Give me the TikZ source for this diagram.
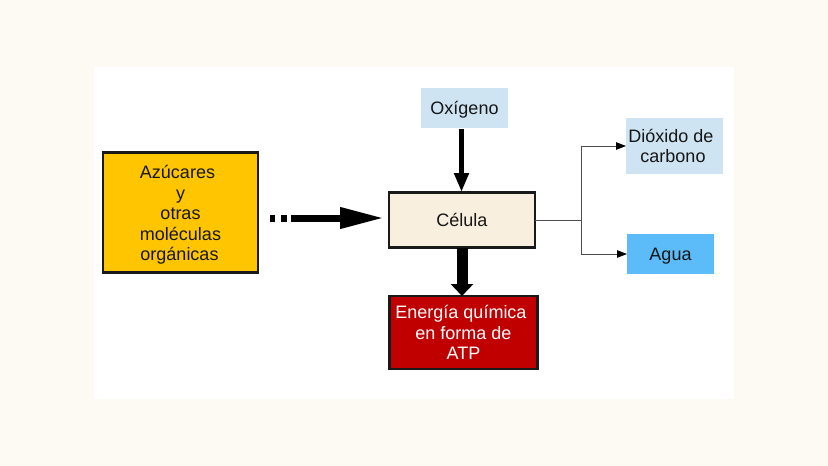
\documentclass[tikz,border=0pt]{standalone}
\usepackage{fontspec}
\setmainfont{Liberation Sans}
\usetikzlibrary{arrows.meta}
\definecolor{pagebg}{HTML}{FDF9F3}
\definecolor{azu}{HTML}{FFC600}
\definecolor{celc}{HTML}{F8EFDF}
\definecolor{pale}{HTML}{CFE4F2}
\definecolor{aguac}{HTML}{5CBCF9}
\definecolor{ener}{HTML}{C00000}
\definecolor{txt}{HTML}{161616}
\tikzset{
  x=1pt,y=-1pt,
  boxn/.style={inner sep=0pt,outer sep=0pt,align=center,text=txt,font=\fontsize{18}{20.4}\selectfont},
  framed/.style={boxn,draw=black!90,line width=2.4pt},
  thinarrow/.style={draw=black!70,line width=0.9pt,-{Triangle[length=10pt,width=7.5pt,black]}},
}
\begin{document}
\begin{tikzpicture}
\useasboundingbox (0,0) rectangle (828,466);
\fill[pagebg] (0,0) rectangle (828,466);
\fill[white] (94,67) rectangle (734,399);
\node[framed,fill=azu,minimum width=155.5pt,minimum height=120pt] (azucares) at (180.5,212.5) {\rule{0pt}{18pt}Azúcares\hspace*{6pt}\\y\hspace*{6pt}\\otras\hspace*{6pt}\\moléculas\hspace*{6pt}\\orgánicas\hspace*{2pt}};
\node[framed,fill=celc,minimum width=146.5pt,minimum height=55pt] (celula) at (462,220) {Célula};
\node[boxn,fill=pale,minimum width=87pt,minimum height=40pt,text depth=0pt] (oxigeno) at (464.5,108) {Oxígeno};
\node[boxn,fill=pale,minimum width=97pt,minimum height=56pt] (dioxido) at (674.5,146) {Dióxido de\hspace*{7pt}\\carbono\hspace*{3pt}};
\node[boxn,fill=aguac,minimum width=87pt,minimum height=40pt,text depth=0pt] (agua) at (670.5,254) {Agua};
\node[framed,fill=ener,text=white,minimum width=148pt,minimum height=73pt] (energia) at (463.5,332.5) {Energía química\hspace*{5pt}\\en forma de\hspace*{5pt}\\ATP};
\coordinate (j) at (581,220);
\coordinate (s) at (270,218);
\coordinate (e) at (384,218);
\draw[line width=7pt,dash pattern=on 5pt off 6pt on 6pt off 4pt on 200pt,-{Triangle[length=44pt,width=20pt,black]}] (s) -- (e);
\draw[line width=5pt,-{Triangle[length=19pt,width=14pt,black]}] (oxigeno.south -| 461.5,0) ++(0,1) -- (461.5,192);
\draw[line width=11pt,-{Triangle[length=12pt,width=22pt,black]}] (462,248) -- (energia.north -| 462,0);
\draw[draw=black!70,line width=0.9pt] (celula.east) -- (j);
\draw[thinarrow] (j) |- (dioxido.west);
\draw[thinarrow] (j) |- (agua.west);
\end{tikzpicture}
\end{document}
